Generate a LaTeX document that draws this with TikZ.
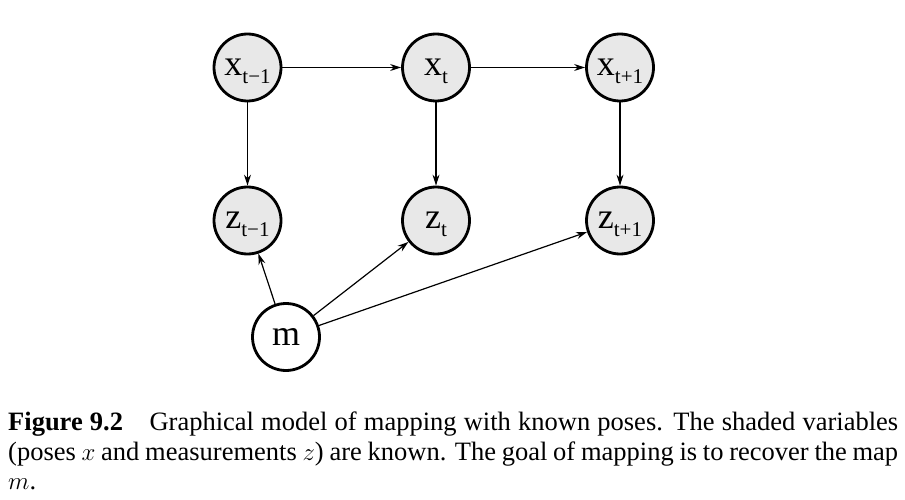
\documentclass[tikz,border=0pt]{standalone}
\usepackage{fontspec}
\setmainfont{Liberation Serif}
\usetikzlibrary{arrows.meta}

\newcommand{\varlab}[2]{{\fontsize{36}{36}\selectfont #1}\raisebox{-8pt}[0pt][0pt]{\fontsize{21}{21}\selectfont #2}}

\begin{document}
\begin{tikzpicture}[x=1pt,y=1pt,
    var/.style={circle,draw=black,line width=2.8pt,fill=black!9,minimum size=67pt,inner sep=0pt},
    param/.style={var,fill=white},
    edge/.style={line width=1.2pt,-{Stealth[length=11pt,width=7pt]}}]
  \useasboundingbox (0,0) rectangle (905,499);

  % posturi
  \node[var] (xa) at (247.5,431.5) {\varlab{x}{t−1}};
  \node[var] (xb) at (436,431.5) {\varlab{x}{t}};
  \node[var] (xc) at (620,431.5) {\varlab{x}{t+1}};

  % masuratori
  \node[var] (za) at (247.5,278.5) {\varlab{z}{t−1}};
  \node[var] (zb) at (436,278.5) {\varlab{z}{t}};
  \node[var] (zc) at (620,278.5) {\varlab{z}{t+1}};

  % harta
  \node[param] (m) at (286,162) {\fontsize{36}{36}\selectfont m};

  % muchii
  \draw[edge] (xa) -- (xb);
  \draw[edge] (xb) -- (xc);
  \foreach \a/\b in {xa/za,xb/zb,xc/zc,m/za,m/zb,m/zc}
    \draw[edge] (\a) -- (\b);

  % legenda
  \node[anchor=north west,inner sep=0pt,text width=890pt,align=justify,
        font=\fontsize{26.5}{29.5}\selectfont] (cap) at (8,87)
    {\textbf{Figure 9.2}\quad Graphical model of mapping with known poses. The shaded variables\linebreak
     (poses $x$ and measurements $z$) are known. The goal of mapping is to recover the map\linebreak
     $m$.};
\end{tikzpicture}
\end{document}
